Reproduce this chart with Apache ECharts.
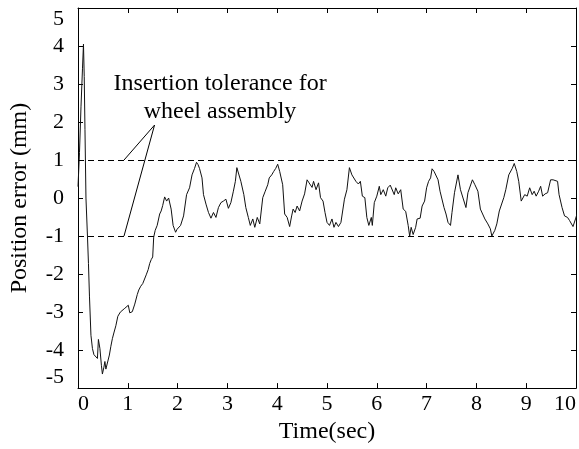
<!DOCTYPE html>
<html>
<head>
<meta charset="utf-8">
<script src="https://cdn.jsdelivr.net/npm/echarts@6/dist/echarts.min.js"></script>
<style>
html,body{margin:0;padding:0;background:#fff;}
#chart{width:579px;height:449px;}
</style>
</head>
<body>
<div id="chart"></div>
<script>
// Time (sec)
var timeSec = [
0.00,0.03,0.06,0.09,0.11,0.125,0.14,0.16,0.19,0.21,0.23,0.26,0.29,0.32,0.35,0.39,0.41,0.44,0.47,0.49,
0.52,0.54,0.56,0.58,0.63,0.66,0.69,0.72,0.76,0.80,0.85,0.89,0.94,0.98,1.01,1.04,1.07,1.09,1.14,1.19,
1.22,1.26,1.30,1.32,1.37,1.41,1.44,1.47,1.50,1.52,1.55,1.59,1.64,1.67,1.70,1.74,1.78,1.82,1.87,1.91,
1.96,1.99,2.03,2.06,2.12,2.18,2.24,2.29,2.34,2.38,2.41,2.44,2.49,2.52,2.57,2.62,2.67,2.72,2.77,2.82,
2.87,2.92,2.97,3.02,3.07,3.12,3.16,3.19,3.23,3.27,3.31,3.33,3.37,3.42,3.46,3.51,3.55,3.60,3.65,3.71,
3.76,3.81,3.84,3.89,3.93,3.97,4.01,4.05,4.11,4.15,4.20,4.25,4.29,4.32,4.36,4.40,4.45,4.50,4.55,4.60,
4.64,4.70,4.73,4.78,4.83,4.87,4.92,4.96,5.00,5.05,5.10,5.14,5.18,5.23,5.28,5.31,5.35,5.40,5.45,5.50,
5.54,5.58,5.63,5.67,5.71,5.76,5.80,5.84,5.89,5.91,5.95,6.00,6.05,6.08,6.13,6.18,6.22,6.27,6.31,6.35,
6.38,6.43,6.48,6.53,6.58,6.63,6.66,6.69,6.73,6.78,6.81,6.87,6.91,6.96,7.00,7.04,7.08,7.11,7.15,7.19,
7.23,7.27,7.31,7.35,7.39,7.43,7.48,7.51,7.56,7.63,7.68,7.72,7.79,7.83,7.87,7.92,7.97,8.03,8.08,8.12,
8.17,8.23,8.28,8.31,8.37,8.41,8.46,8.50,8.55,8.59,8.65,8.68,8.72,8.76,8.81,8.85,8.90,8.94,8.97,9.02,
9.07,9.12,9.16,9.20,9.25,9.29,9.33,9.38,9.43,9.49,9.54,9.57,9.63,9.66,9.72,9.77,9.83,9.87,9.94,9.99,
10.03
];
// Position error (mm)
var positionError = [
0.3,1.2,2.4,3.4,4.05,3.2,1.8,0.0,-1.0,-1.72,-2.58,-3.61,-3.96,-4.12,-4.17,-4.22,-3.72,-3.96,-4.4,-4.63,
-4.45,-4.3,-4.5,-4.47,-4.13,-3.9,-3.7,-3.55,-3.36,-3.11,-3.0,-2.96,-2.9,-2.85,-2.82,-3.02,-3.05,-2.99,-2.79,-2.54,
-2.42,-2.32,-2.25,-2.22,-2.02,-1.88,-1.72,-1.62,-1.55,-1.03,-0.85,-0.72,-0.42,-0.34,-0.2,0.03,-0.08,0.0,-0.29,-0.72,
-0.9,-0.82,-0.8,-0.72,-0.47,0.09,0.27,0.61,0.78,0.94,0.88,0.78,0.53,0.09,-0.16,-0.38,-0.53,-0.38,-0.51,-0.25,
-0.12,-0.08,-0.03,-0.27,-0.12,0.18,0.44,0.8,0.77,0.44,0.4,0.09,-0.25,-0.51,-0.72,-0.55,-0.77,-0.51,-0.68,0.01,
0.18,0.35,0.53,0.61,0.7,0.78,0.89,0.7,0.35,-0.42,-0.51,-0.75,-0.47,-0.29,-0.38,-0.21,-0.34,-0.08,0.11,0.48,
0.4,0.28,0.44,0.22,0.4,0.01,-0.08,-0.38,-0.64,-0.72,-0.55,-0.77,-0.64,-0.75,-0.64,-0.59,-0.03,0.22,0.8,0.61,
0.66,0.44,0.37,0.44,0.05,0.01,-0.51,-0.72,-0.51,-0.72,-0.12,0.05,0.31,0.09,0.22,0.05,0.27,0.34,0.35,0.09,
0.27,0.11,0.22,-0.29,-0.35,-0.72,-1.0,-0.77,-0.96,-0.77,-0.55,-0.53,-0.21,-0.08,0.27,0.44,0.53,0.77,0.7,0.68,
0.48,0.18,0.14,-0.25,-0.42,-0.64,-0.72,-0.38,0.14,0.61,0.22,0.22,-0.25,0.14,0.18,0.48,0.35,0.18,-0.29,-0.34,
-0.55,-0.68,-0.81,-1.0,-0.85,-0.68,-0.34,-0.29,0.01,0.22,0.61,0.66,0.78,0.91,0.7,0.44,-0.08,-0.12,0.09,0.05,
0.27,0.09,0.18,0.05,0.18,0.31,0.05,0.11,0.14,0.48,0.48,0.53,0.44,0.09,-0.25,-0.47,-0.51,-0.59,-0.75,-0.55,
-0.38
];
// Tolerance band (mm)
var toleranceLevels = [1, -1];
// Annotation pointer (time, mm): upper end, apex, lower end
var pointerTime = [0.924, 1.537, 0.924];
var pointerValue = [1, 1.92, -1];
var annotationLines = ["Insertion tolerance for", "wheel assembly"];
var xTicks = [0,1,2,3,4,5,6,7,8,9,10];
var yTicks = [-5,-4,-3,-2,-1,0,1,2,3,4,5];

var FONT = "'Liberation Serif','DejaVu Serif',serif";
var chart = echarts.init(document.getElementById('chart'), null, {renderer:'canvas'});

var mainData = timeSec.map(function(t,i){return [t, positionError[i]];});
var pointerData = pointerTime.map(function(t,i){return [t, pointerValue[i]];});

var axLine = {show:true, onZero:false, lineStyle:{color:'#000', width:1}};
var axTick = {show:true, inside:true, length:5, lineStyle:{color:'#000', width:1}};

var option = {
  animation:false,
  backgroundColor:'#fff',
  grid:{left:77, right:1, top:8, bottom:57, containLabel:false},
  xAxis:[{
    type:'value', min:xTicks[0], max:xTicks[xTicks.length-1], interval:1,
    position:'bottom',
    axisLine:axLine, axisTick:axTick, splitLine:{show:false},
    axisLabel:{color:'#000', fontFamily:FONT, fontSize:22, margin:5,
      alignMinLabel:'left', alignMaxLabel:'right'},
    name:'Time(sec)', nameLocation:'middle', nameGap:29,
    nameTextStyle:{color:'#000', fontFamily:FONT, fontSize:24}
  },{
    type:'value', min:xTicks[0], max:xTicks[xTicks.length-1], interval:1,
    position:'top',
    axisLine:axLine, axisTick:axTick, splitLine:{show:false},
    axisLabel:{show:false}
  }],
  yAxis:[{
    type:'value', min:yTicks[0], max:yTicks[yTicks.length-1], interval:1,
    position:'left',
    axisLine:axLine, axisTick:axTick, splitLine:{show:false},
    axisLabel:{color:'#000', fontFamily:FONT, fontSize:22, margin:14,
      verticalAlignMinLabel:'bottom', verticalAlignMaxLabel:'top'},
    name:'Position error (mm)', nameLocation:'middle', nameGap:46, nameRotate:90,
    nameTextStyle:{color:'#000', fontFamily:FONT, fontSize:24}
  },{
    type:'value', min:yTicks[0], max:yTicks[yTicks.length-1], interval:1,
    position:'right',
    axisLine:axLine, axisTick:axTick, splitLine:{show:false},
    axisLabel:{show:false}
  }],
  series:[{
    type:'line', data:mainData, xAxisIndex:0, yAxisIndex:0,
    symbol:'none', clip:true,
    lineStyle:{color:'#111', width:1},
    markLine:{
      silent:true, symbol:['none','none'],
      label:{show:false},
      lineStyle:{color:'#000', width:1, type:[6,4]},
      data:toleranceLevels.map(function(v){return {yAxis:v};})
    }
  },{
    type:'line', data:pointerData, xAxisIndex:0, yAxisIndex:0,
    symbol:'none', lineStyle:{color:'#000', width:1}
  }],
  graphic:[{
    type:'text', x:220, y:84,
    style:{text:annotationLines[0], fill:'#000', font:'24px '+FONT, align:'center', verticalAlign:'middle'}
  },{
    type:'text', x:220, y:112,
    style:{text:annotationLines[1], fill:'#000', font:'24px '+FONT, align:'center', verticalAlign:'middle'}
  }]
};
chart.setOption(option);
</script>
</body>
</html>
